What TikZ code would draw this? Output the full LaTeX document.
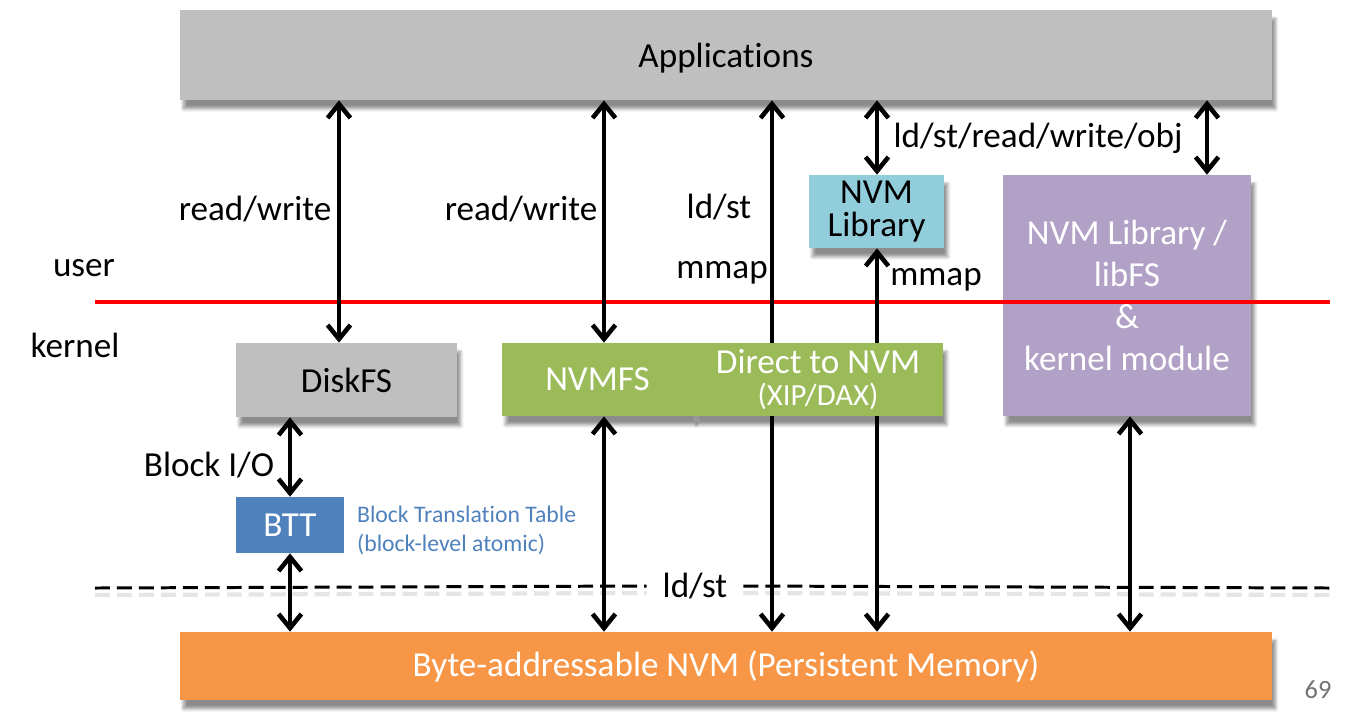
\documentclass[tikz,border=0pt]{standalone}
\usepackage{fontspec}
\setmainfont{Carlito}[Ligatures=NoCommon]
\usetikzlibrary{arrows.meta,shadows.blur}

\definecolor{appgray}{HTML}{BFBFBF}
\definecolor{nvmgreen}{HTML}{9BBB59}
\definecolor{libblue}{HTML}{92CDDC}
\definecolor{libpurple}{HTML}{B2A1C7}
\definecolor{bttblue}{HTML}{4F81BD}
\definecolor{pmorange}{HTML}{F79646}

\def\bigfont{\fontsize{20}{24}\selectfont}

\begin{document}
\begin{tikzpicture}[x=0.02cm, y=-0.02cm, font=\bigfont, >={Straight Barb[length=8pt,width=13pt]}]
    \tikzstyle{edge}=[<->, line width=2.6pt]
    \tikzstyle{oneway}=[->, line width=2.6pt]
    \tikzstyle{layer}=[rectangle, inner sep=0pt, align=center, blur shadow={shadow xshift=2pt, shadow yshift=-5pt, shadow blur steps=6, shadow opacity=45}]
    \tikzstyle{annot}=[inner sep=1pt]
    \tikzstyle{dashline}=[line width=1.7pt, dash pattern=on 8.5pt off 4pt]

    \useasboundingbox (0,0) rectangle (1369,718);

    % layers
    \node[layer, fill=appgray, minimum width=21.84cm, minimum height=1.8cm] (apps) at (726,55) {};
    \node[annot] (appstext) at (726,58) {Applications};
    \node[layer, fill=appgray, minimum width=4.42cm, minimum height=1.48cm] (disk) at (346.5,380) {DiskFS};
    \node[layer, fill=nvmgreen, text=white, minimum width=3.82cm, minimum height=1.46cm] (nvmfs) at (597.5,379.5) {NVMFS};
    \node[layer, fill=nvmgreen, text=white, minimum width=5cm, minimum height=1.46cm] (direct) at (818,379.5)
        {Direct to NVM\\[-6pt]{\fontsize{17.5}{20}\selectfont (XIP/DAX)}};
    \node[layer, fill=libblue, minimum width=2.7cm, minimum height=1.46cm, font=\fontsize{20}{18.5}\selectfont] (nvmlib) at (876.5,211.5) {NVM\\Library};
    \node[layer, fill=libpurple, text=white, minimum width=4.96cm, minimum height=4.82cm] (libfs) at (1127,295.5)
        {NVM Library /\\libFS\\\&\\kernel module};
    \node[rectangle, fill=bttblue, text=white, minimum width=2.16cm, minimum height=1.12cm] (btt) at (290,525) {BTT};
    \node[layer, fill=pmorange, text=white, minimum width=21.84cm, minimum height=1.36cm] (pm) at (726,666)
        {Byte-addressable NVM (Persistent Memory)};

    % user / kernel boundary
    \coordinate (rl) at (95,302);
    \coordinate (rr) at (1330,302);
    \draw[red, line width=2.2pt] (rl) -- (rr);
    \node[annot] (user) at (84,268) {user};
    \node[annot] (kernel) at (75,345) {kernel};

    % ld/st boundary
    \node[annot, inner xsep=9pt] (ldst) at (695,586) {ld/st};
    \coordinate (dl) at (95,588);
    \coordinate (dr) at (1330,588);
    \draw[dashline, black!10, line width=2.4pt] ([yshift=-4pt]dl) -- ([yshift=-4pt]ldst.west);
    \draw[dashline, black!10, line width=2.4pt] ([yshift=-4pt]ldst.east) -- ([yshift=-4pt]dr);
    \draw[dashline] (dl) -- (ldst.west);
    \draw[dashline] (ldst.east) -- (dr);

    \path[edge]
        (339,0 |- apps.south) edge (339,0 |- disk.north)
        (604,0 |- apps.south) edge (604,0 |- nvmfs.north)
        (877,0 |- apps.south) edge (877,0 |- nvmlib.north)
        (1207,0 |- apps.south) edge (1207,0 |- libfs.north)
        (290,0 |- disk.south) edge (290,0 |- btt.north)
        (290,0 |- btt.south) edge (290,0 |- pm.north)
        (604,0 |- nvmfs.south) edge (604,0 |- pm.north)
        (1130,0 |- libfs.south) edge (1130,0 |- pm.north)
    ;
    \path[oneway]
        (772,0 |- direct.north) edge (772,0 |- apps.south)
        (772,0 |- direct.south) edge (772,0 |- pm.north)
        (877,0 |- direct.north) edge (877,0 |- nvmlib.south)
        (877,0 |- direct.south) edge (877,0 |- pm.north)
    ;

    % labels
    \node[annot] (rw1) at (255,209) {read/write};
    \node[annot] (rw2) at (521,209) {read/write};
    \node[annot] (ldst1) at (719,207) {ld/st};
    \node[annot] (mmap1) at (722,273) {mmap};
    \node[annot] (mmap2) at (936,280) {mmap};
    \node[annot] (objops) at (1038,138) {ld/st/read/write/obj};
    \node[annot] (blockio) at (209,465) {Block I/O};
    \node[annot, anchor=west, align=left, text=bttblue, font=\fontsize{13.5}{16.5}\selectfont] (bttnote) at (355,530)
        {Block Translation Table\\(block-level atomic)};
    \node[annot, text=black!55, font=\fontsize{15}{18}\selectfont] (pgno) at (1318,690) {69};
\end{tikzpicture}
\end{document}
